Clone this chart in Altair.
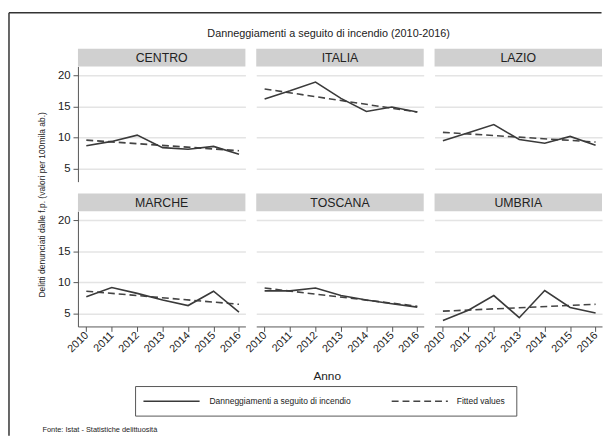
import altair as alt
import pandas as pd

# ---------------- data ----------------
anni = [2010, 2011, 2012, 2013, 2014, 2015, 2016]
regioni = ["CENTRO", "ITALIA", "LAZIO", "MARCHE", "TOSCANA", "UMBRIA"]

centro = [8.7, 9.4, 10.4, 8.4, 8.15, 8.6, 7.35]
italia = [16.2, 17.5, 18.9, 16.3, 14.2, 14.9, 14.1]
lazio = [9.5, 10.8, 12.1, 9.7, 9.1, 10.2, 8.8]
marche = [7.7, 9.2, 8.25, 7.2, 6.3, 8.6, 5.25]
toscana = [8.65, 8.65, 9.1, 7.9, 7.2, 6.6, 6.05]
umbria = [3.9, 5.55, 7.9, 4.35, 8.7, 6.0, 5.1]

# fitted (linear trend) values at the two ends of the period
fitted_2010 = [9.6, 17.8, 10.85, 8.6, 9.1, 5.4]
fitted_2016 = [7.9, 14.1, 9.3, 6.5, 6.2, 6.5]

serie_oss = "Danneggiamenti a seguito di incendio"
serie_fit = "Fitted values"
titolo = "Danneggiamenti a seguito di incendio (2010-2016)"
y_titolo = "Delitti denunciati dalle f.p. (valori per 100mila ab.)"
x_titolo = "Anno"
fonte = "Fonte: Istat - Statistiche delittuosità"
y_ticks = [5, 10, 15, 20]

valori = [centro, italia, lazio, marche, toscana, umbria]

rows_obs = []
for r, vals in zip(regioni, valori):
    for a, v in zip(anni, vals):
        rows_obs.append({"regione": r, "anno": a, "valore": v, "serie": serie_oss})
df_obs = pd.DataFrame(rows_obs)

rows_fit = []
for r, f0, f1 in zip(regioni, fitted_2010, fitted_2016):
    rows_fit.append({"regione": r, "anno": anni[0], "valore": f0, "serie": serie_fit})
    rows_fit.append({"regione": r, "anno": anni[-1], "valore": f1, "serie": serie_fit})
df_fit = pd.DataFrame(rows_fit)

# ---------------- layout / style ----------------
W, H = 170, 117
XDOM = [2009.671, 2016.252]
YDOM = [2.95, 21.42]
STRIP = 18
TXT = "#222222"
LINE = "#3a3a3a"
GRID = "#e4e4e4"
AXC = "#555555"


def panel(i):
    r = regioni[i]
    col, row = i % 3, i // 3

    if col == 0:
        yaxis = alt.Axis(
            values=y_ticks, grid=True, gridColor=GRID, gridWidth=1.5,
            domainColor=AXC, tickColor=AXC, tickSize=5, labelFontSize=11.5,
            labelColor=TXT, labelPadding=3,
            title=y_titolo if i == 0 else None,
            **({"titleX": -36.5, "titleY": 140, "titleFontSize": 8.6,
                "titleFontWeight": "normal", "titleColor": TXT, "titleAngle": 270,
                "titleAlign": "center", "titleBaseline": "middle"} if i == 0 else {}),
        )
    else:
        yaxis = alt.Axis(values=y_ticks, grid=True, gridColor=GRID, gridWidth=1.5,
                         domain=False, ticks=False, labels=False, title=None)

    if row == 1:
        xaxis = alt.Axis(
            values=anni, format="d", grid=False, labelAngle=315, labelAlign="right",
            labelBaseline="middle", labelFontSize=11, labelColor=TXT, labelPadding=2,
            domainColor=AXC, tickColor=AXC, tickSize=5,
            title=x_titolo if i == 4 else None,
            **({"titleX": 71.5, "titleY": 50, "titleFontSize": 12,
                "titleFontWeight": "normal", "titleColor": TXT,
                "titleBaseline": "middle", "titleAlign": "center"} if i == 4 else {}),
        )
    else:
        xaxis = None

    x = alt.X("anno:Q", scale=alt.Scale(domain=XDOM, nice=False, zero=False), axis=xaxis)
    y = alt.Y("valore:Q", scale=alt.Scale(domain=YDOM, nice=False, zero=False), axis=yaxis)

    lab = pd.DataFrame({"regione": [r]})
    strip = alt.Chart(lab).mark_rect(color="#d0d0d0").encode(
        x=alt.value(0), x2=alt.value(W), y=alt.value(-STRIP), y2=alt.value(0))
    strip_t = alt.Chart(lab).mark_text(fontSize=12.5, color=TXT, baseline="middle",
                                       align="center").encode(
        text="regione:N", x=alt.value(W / 2), y=alt.value(-STRIP / 2 + 0.5))

    fit = alt.Chart(df_fit[df_fit.regione == r]).mark_line(
        color="#444444", strokeWidth=1.6, strokeDash=[7, 4]).encode(x=x, y=y)
    obs = alt.Chart(df_obs[df_obs.regione == r]).mark_line(
        color=LINE, strokeWidth=1.6).encode(x=x, y=y)

    layers = [strip, strip_t]

    if i == 0:
        deco = pd.DataFrame({"t": [titolo]})
        # frame of the page (left and top rules)
        layers.append(alt.Chart(deco).mark_rule(color="#333333", strokeWidth=1.5).encode(
            x=alt.value(-70), y=alt.value(-54.5), y2=alt.value(375)))
        layers.append(alt.Chart(deco).mark_rule(color="#333333", strokeWidth=1.5).encode(
            x=alt.value(-70), x2=alt.value(531.5), y=alt.value(-54.5)))
        layers.append(alt.Chart(deco).mark_text(fontSize=11, color=TXT, align="center",
                                                baseline="middle").encode(
            text="t:N", x=alt.value(254.5), y=alt.value(-33)))

    if i == 3:
        leg = pd.DataFrame({"a": [serie_oss], "b": [serie_fit], "f": [fonte]})
        layers.append(alt.Chart(leg).mark_rect(fill="white", stroke="#555555",
                                               strokeWidth=1).encode(
            x=alt.value(58.5), x2=alt.value(445.5), y=alt.value(178), y2=alt.value(208)))
        layers.append(alt.Chart(leg).mark_rule(color=LINE, strokeWidth=1.6).encode(
            x=alt.value(66.5), x2=alt.value(123.5), y=alt.value(193)))
        layers.append(alt.Chart(leg).mark_rule(color="#444444", strokeWidth=1.6,
                                               strokeDash=[7, 4]).encode(
            x=alt.value(318.5), x2=alt.value(375.5), y=alt.value(193)))
        layers.append(alt.Chart(leg).mark_text(fontSize=8.6, color=TXT, align="left",
                                               baseline="middle").encode(
            text="a:N", x=alt.value(133.5), y=alt.value(193)))
        layers.append(alt.Chart(leg).mark_text(fontSize=8.6, color=TXT, align="left",
                                               baseline="middle").encode(
            text="b:N", x=alt.value(384.5), y=alt.value(193)))
        layers.append(alt.Chart(leg).mark_text(fontSize=7.5, color=TXT, align="left",
                                               baseline="middle").encode(
            text="f:N", x=alt.value(-36), y=alt.value(222)))

    layers += [fit, obs]
    return alt.layer(*layers).properties(width=W, height=H)


chart = alt.ConcatChart(
    concat=[panel(i) for i in range(6)],
    columns=3,
    spacing=alt.RowColnumber(row=30, column=11),
    bounds="flush",
    padding={"left": 0, "top": 0, "right": 0, "bottom": 0},
).configure(font="Liberation Sans", background="white").configure_view(stroke=None)

chart.save("out.html", embed_options={"renderer": "svg", "actions": False})
